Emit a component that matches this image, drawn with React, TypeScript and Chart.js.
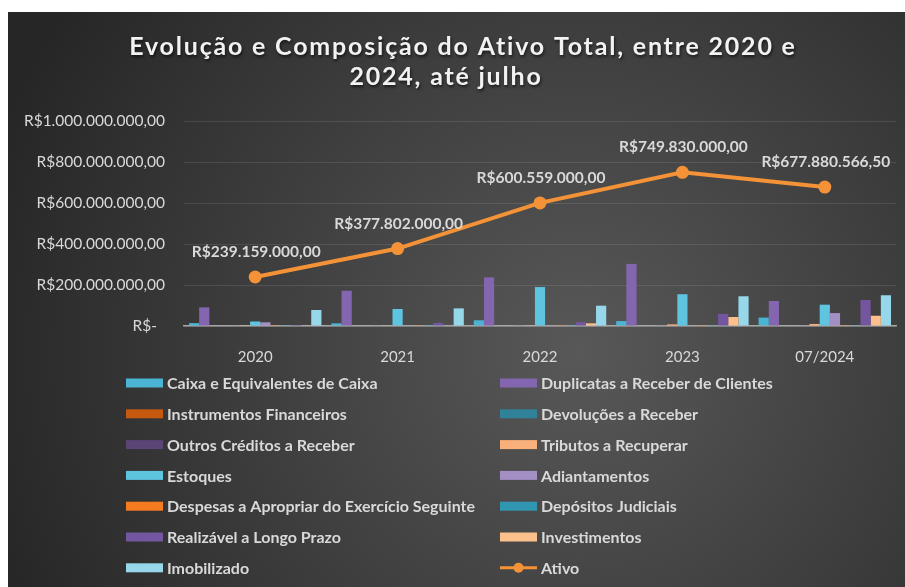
import React, { useEffect, useRef } from 'react';
import { Chart, registerables } from 'chart.js';

Chart.register(...registerables);

const categories = ['2020', '2021', '2022', '2023', '07/2024'];
const titleLines = ['Evolução e Composição do Ativo Total, entre 2020 e', '2024, até julho'];

const caixa = [14e6, 13e6, 28e6, 24e6, 41e6];
const duplicatas = [91e6, 172e6, 237e6, 303e6, 122e6];
const instrumentos = [0, 0, 0, 0, 0];
const devolucoes = [0, 0, 0, 0, 0];
const outrosCreditos = [2e6, 2e6, 2e6, 2e6, 2e6];
const tributos = [1e6, 2e6, 3e6, 8e6, 10e6];
const estoques = [22e6, 83e6, 190e6, 155e6, 104e6];
const adiantamentos = [18e6, 2e6, 1e6, 2e6, 63e6];
const despesas = [1e6, 1e6, 1e6, 1e6, 1e6];
const depositos = [1e6, 1e6, 1e6, 1e6, 1e6];
const realizavel = [5e6, 15e6, 19e6, 59e6, 127e6];
const investimentos = [0, 0, 13e6, 44e6, 50e6];
const imobilizado = [78e6, 86e6, 99e6, 145e6, 150e6];
const ativo = [239159000, 377802000, 600559000, 749830000, 677880566.5];

const barSeries = [
  { label: 'Caixa e Equivalentes de Caixa', data: caixa, color: '#4bb3d3' },
  { label: 'Duplicatas a Receber de Clientes', data: duplicatas, color: '#8466b0' },
  { label: 'Instrumentos Financeiros', data: instrumentos, color: '#c4590f' },
  { label: 'Devoluções a Receber', data: devolucoes, color: '#2f8298' },
  { label: 'Outros Créditos a Receber', data: outrosCreditos, color: '#5a4478' },
  { label: 'Tributos a Recuperar', data: tributos, color: '#f9b07a' },
  { label: 'Estoques', data: estoques, color: '#5ec4e0' },
  { label: 'Adiantamentos', data: adiantamentos, color: '#a48fc4' },
  { label: 'Despesas a Apropriar do Exercício Seguinte', data: despesas, color: '#f57b21' },
  { label: 'Depósitos Judiciais', data: depositos, color: '#3196b2' },
  { label: 'Realizável a Longo Prazo', data: realizavel, color: '#7456a0' },
  { label: 'Investimentos', data: investimentos, color: '#fcc08c' },
  { label: 'Imobilizado', data: imobilizado, color: '#96d7ea' },
];
const lineLabel = 'Ativo';
const lineColor = '#f39237';

function fmtBRL(v: number): string {
  if (v === 0) return 'R$-  ';
  const [i, d] = v.toFixed(2).split('.');
  return 'R$' + i.replace(/\B(?=(\d{3})+(?!\d))/g, '.') + ',' + d;
}

const FONT = 'Lato';
const TEXT = '#d9d9d9';

const bgPlugin = {
  id: 'bg',
  beforeDraw(chart: any) {
    const { ctx, width, height } = chart;
    ctx.save();
    const g = ctx.createRadialGradient(570, 340, 0, 570, 340, 620);
    g.addColorStop(0, '#585858');
    g.addColorStop(1, '#262626');
    ctx.fillStyle = g;
    ctx.fillRect(0, 0, width, height);
    ctx.restore();
  },
};

const titlePlugin = {
  id: 'customTitle',
  afterDraw(chart: any) {
    const { ctx } = chart;
    ctx.save();
    ctx.font = `bold 25px ${FONT}`;
    try { (ctx as any).letterSpacing = '1.8px'; } catch (e) {}
    ctx.textAlign = 'center';
    ctx.textBaseline = 'middle';
    ctx.fillStyle = '#f2f2f2';
    ctx.shadowColor = 'rgba(0,0,0,0.6)';
    ctx.shadowOffsetX = 1;
    ctx.shadowOffsetY = 2;
    ctx.shadowBlur = 3;
    const centers = [455, 438];
    titleLines.forEach((l, i) => ctx.fillText(l, centers[i], 35 + i * 30));
    ctx.restore();
  },
};

const labelPlugin = {
  id: 'lineLabels',
  afterDatasetsDraw(chart: any) {
    const { ctx } = chart;
    const idx = chart.data.datasets.length - 1;
    const meta = chart.getDatasetMeta(idx);
    ctx.save();
    ctx.font = `bold 15.5px ${FONT}`;
    ctx.fillStyle = TEXT;
    ctx.textAlign = 'center';
    ctx.textBaseline = 'middle';
    meta.data.forEach((p: any, i: number) => {
      ctx.fillText(fmtBRL(ativo[i]), p.x + 1, p.y - 25);
    });
    ctx.restore();
  },
};

const legendPlugin = {
  id: 'customLegend',
  afterDraw(chart: any) {
    const { ctx } = chart;
    const items = [
      ...barSeries.map((s) => ({ label: s.label, color: s.color, line: false })),
      { label: lineLabel, color: lineColor, line: true },
    ];
    ctx.save();
    ctx.font = `bold 16px ${FONT}`;
    ctx.textBaseline = 'middle';
    ctx.textAlign = 'left';
    items.forEach((it, i) => {
      const col = i % 2;
      const row = Math.floor(i / 2);
      const x = col === 0 ? 118 : 492;
      const y = 371 + row * 30.8;
      if (it.line) {
        ctx.strokeStyle = it.color;
        ctx.lineWidth = 3;
        ctx.beginPath();
        ctx.moveTo(x, y);
        ctx.lineTo(x + 37, y);
        ctx.stroke();
        ctx.fillStyle = it.color;
        ctx.beginPath();
        ctx.arc(x + 18.5, y, 5, 0, Math.PI * 2);
        ctx.fill();
      } else {
        ctx.fillStyle = it.color;
        ctx.fillRect(x, y - 4.5, 37, 9);
      }
      ctx.fillStyle = TEXT;
      ctx.fillText(it.label, x + 41, y + 1);
    });
    ctx.restore();
  },
};

export default function App() {
  const ref = useRef<HTMLCanvasElement>(null);
  useEffect(() => {
    if (!ref.current) return;
    const datasets: any[] = barSeries.map((s) => ({
      type: 'bar',
      label: s.label,
      data: s.data,
      backgroundColor: s.color,
      borderWidth: 0,
      order: 1,
      categoryPercentage: 0.93,
      barPercentage: 1.0,
    }));
    datasets.push({
      type: 'line',
      label: lineLabel,
      data: ativo,
      borderColor: lineColor,
      backgroundColor: lineColor,
      borderWidth: 4,
      pointRadius: 6.5,
      pointBackgroundColor: lineColor,
      pointBorderColor: lineColor,
      pointBorderWidth: 0,
      tension: 0,
      order: 0,
    });
    const chart = new Chart(ref.current, {
      type: 'bar',
      data: { labels: categories, datasets },
      plugins: [bgPlugin, titlePlugin, labelPlugin, legendPlugin],
      options: {
        animation: false,
        responsive: false,
        layout: { padding: { top: 109, left: 0, right: 9, bottom: 0 } },
        plugins: {
          legend: { display: false },
          title: { display: false },
          tooltip: { enabled: false },
        },
        scales: {
          x: {
            grid: { display: false },
            border: { display: true, color: '#a6a6a6', width: 1.5 },
            ticks: { color: TEXT, font: { family: FONT, size: 15 }, padding: 14 },
            afterFit: (s: any) => { s.height = 261; },
          },
          y: {
            min: 0,
            max: 1e9,
            ticks: {
              stepSize: 2e8,
              color: TEXT,
              font: { family: FONT, size: 15.5 },
              padding: 19,
              callback: (v: any) => fmtBRL(Number(v)),
            },
            grid: { color: 'rgba(255,255,255,0.1)', drawTicks: false },
            border: { display: false },
            afterFit: (s: any) => { s.width = 176; },
          },
        },
      },
    });
    return () => chart.destroy();
  }, []);
  return (
    <div style={{ position: 'absolute', left: 8, top: 12, width: 897, height: 575, overflow: 'hidden' }}>
      <canvas ref={ref} width={897} height={575} />
    </div>
  );
}
